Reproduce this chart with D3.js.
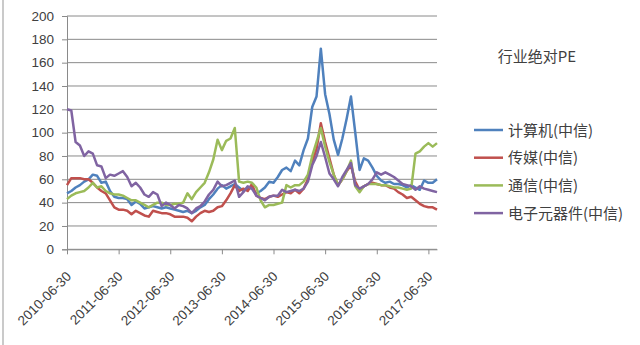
<!DOCTYPE html>
<html><head><meta charset="utf-8">
<script src="https://cdn.jsdelivr.net/npm/d3@7"></script>
<style>body{margin:0;background:#fff}svg{display:block}</style>
</head><body>
<svg id="c" width="640" height="345"></svg>
<script>
const title = "行业绝对PE";
const seriesNames = ["计算机(中信)", "传媒(中信)", "通信(中信)", "电子元器件(中信)"];
const seriesColors = ["#4F81BD", "#C0504D", "#9BBB59", "#8064A2"];
const tickLabels = ["2010-06-30","2011-06-30","2012-06-30","2013-06-30","2014-06-30","2015-06-30","2016-06-30","2017-06-30"];
const yTicks = [0,20,40,60,80,100,120,140,160,180,200];
// monthly observations, 2010-06 .. 2017-08
const computer = [48,50,53,55,58,60,64,63,57,58,50,45,44,44,43,38,41,39,35,36,37,36,35,36,35,34,33,32,33,31,33,36,38,43,47,52,55,52,54,56,53,50,53,52,48,50,53,58,57,62,68,70,67,76,72,85,95,122,131,172,133,116,94,81,95,112,131,100,68,78,76,70,63,59,57,58,56,56,55,53,55,53,51,59,57,57,60];
const media = [55,61,61,61,60,60,57,53,50,48,42,36,34,34,33,30,33,31,29,28,33,32,31,31,30,28,28,28,27,24,28,31,33,32,33,36,37,42,48,55,50,52,50,56,46,44,43,45,46,45,47,49,48,51,48,52,60,75,86,108,92,78,64,55,60,67,72,58,51,54,56,57,56,55,55,53,52,49,47,44,45,42,39,37,36,36,34];
const telecom = [43,46,48,49,50,53,57,53,54,50,48,47,47,46,44,42,42,40,38,36,38,40,40,38,38,39,39,40,48,43,49,53,57,66,77,94,85,93,95,104,58,57,58,57,53,42,36,38,38,39,40,55,53,55,55,58,64,80,92,104,88,75,64,55,60,67,76,54,49,54,56,56,56,55,55,54,53,53,52,51,52,82,84,88,91,88,91];
const electronics = [120,119,92,89,80,84,82,72,71,61,64,63,65,67,62,54,57,53,47,45,49,47,37,40,38,35,38,37,35,31,35,37,41,47,51,58,54,55,57,59,45,49,54,52,46,44,42,45,46,46,51,49,50,51,50,52,58,72,80,92,79,65,60,54,62,68,74,55,52,54,56,60,66,64,66,64,62,59,56,55,54,51,54,52,51,50,49];
const allSeries = [computer, media, telecom, electronics];

const svg = d3.select("#c");
const x0 = 67, x1 = 437, yTop = 16, yBot = 249.3;
const x = d3.scaleLinear().domain([0, computer.length - 1]).range([x0, x1]);
const y = d3.scaleLinear().domain([0, 200]).range([yBot, yTop]);
const numFont = "'Liberation Sans', Arial, sans-serif";
const cjkFont = "'Noto Sans CJK SC', sans-serif";

// chart frame left edge
svg.append("line").attr("x1",3).attr("x2",3).attr("y1",0).attr("y2",345).attr("stroke","#b8b8b8").attr("stroke-width",1.5);

// gridlines
svg.append("g").selectAll("line").data(yTicks).join("line")
  .attr("x1", x0).attr("x2", x1)
  .attr("y1", d => y(d)).attr("y2", d => y(d))
  .attr("stroke", "#8a8a8a").attr("stroke-width", 1);

// y axis
const ya = svg.append("g").attr("transform", `translate(${x0},0)`)
  .call(d3.axisLeft(y).tickValues(yTicks).tickSize(5).tickPadding(8));
ya.select(".domain").attr("stroke", "#8a8a8a");
ya.selectAll(".tick line").attr("stroke", "#8a8a8a");
ya.selectAll("text").attr("font-family", numFont).attr("font-size", 13.5).attr("fill", "#404040");

// x axis
const xa = svg.append("g").attr("transform", `translate(0,${yBot})`)
  .call(d3.axisBottom(x).tickValues(tickLabels.map((d,i)=>i*12)).tickFormat((d,i)=>tickLabels[i]).tickSize(5).tickSizeOuter(0));
xa.select(".domain").attr("stroke", "#8a8a8a");
xa.selectAll(".tick line").attr("stroke", "#8a8a8a");
xa.selectAll("text").attr("font-family", numFont).attr("font-size", 13.5).attr("fill", "#404040")
  .attr("text-anchor", "end").attr("dy", null).attr("y", 0)
  .attr("transform", "translate(4.5,28) rotate(-45)");

// lines
const line = d3.line().x((d,i) => x(i)).y(d => y(d));
allSeries.forEach((s, k) => {
  svg.append("path").datum(s).attr("d", line)
    .attr("fill", "none").attr("stroke", seriesColors[k])
    .attr("stroke-width", 2.5).attr("stroke-linejoin", "round");
});

// title
svg.append("text").attr("x", 537).attr("y", 62).attr("text-anchor", "middle")
  .attr("font-family", cjkFont).attr("font-size", 15).attr("fill", "#404040").text(title);

// legend
const lg = svg.append("g");
seriesNames.forEach((n, k) => {
  const ly = 130 + k * 27.7;
  lg.append("line").attr("x1", 474).attr("x2", 503).attr("y1", ly).attr("y2", ly)
    .attr("stroke", seriesColors[k]).attr("stroke-width", 2.5);
  lg.append("text").attr("x", 508).attr("y", ly + 5.5)
    .attr("font-family", cjkFont).attr("font-size", 15).attr("fill", "#404040").text(n);
});
</script>
</body></html>
